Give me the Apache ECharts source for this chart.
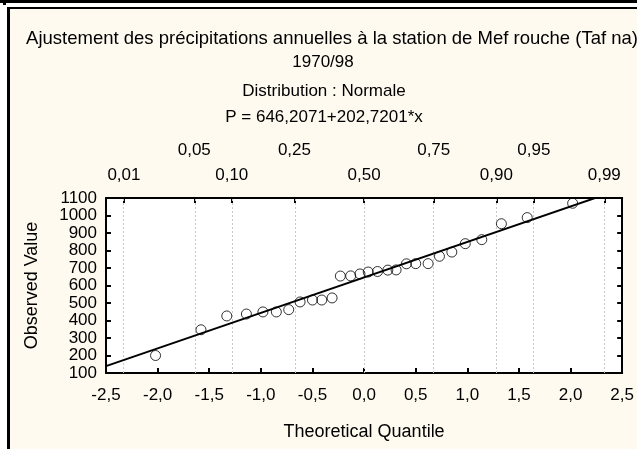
<!DOCTYPE html>
<html>
<head>
<meta charset="utf-8">
<title>Ajustement des précipitations annuelles</title>
<script src="https://cdn.jsdelivr.net/npm/echarts@6/dist/echarts.min.js"></script>
<style>
  html, body { margin: 0; padding: 0; background: #fff; }
  #chart { width: 637px; height: 449px; }
</style>
</head>
<body>
<div id="chart"></div>
<script>
// theoretical quantiles (normal scores)
const quantiles = [-2.02, -1.58, -1.33, -1.14, -0.98, -0.85, -0.73, -0.62, -0.50, -0.41,
    -0.31, -0.23, -0.13, -0.04, 0.04, 0.13, 0.23, 0.31, 0.41, 0.50,
    0.62, 0.73, 0.85, 0.98, 1.14, 1.33, 1.58, 2.02];
// observed annual rainfall (mm), sorted
const observed = [200, 347, 426, 437, 449, 449, 462, 506, 517, 517,
    529, 654, 655, 666, 677, 680, 688, 689, 724, 725,
    725, 767, 791, 839, 862, 953, 988, 1070];

// fitted line P = a + b*x
const intercept = 646.2071;
const slope = 202.7201;

// probability scale on the top axis
const probLabels = ['0,01', '0,05', '0,10', '0,25', '0,50', '0,75', '0,90', '0,95', '0,99'];
const probPos = [-2.3263, -1.6449, -1.2816, -0.6745, 0, 0.6745, 1.2816, 1.6449, 2.3263];
const probLowRow = [-2.3263, -1.2816, 0, 1.2816, 2.3263];
const probHighRow = [-1.6449, -0.6745, 0.6745, 1.6449];

const font = '"Liberation Sans", Arial, sans-serif';

const probName = function (v) {
    let best = 0;
    probPos.forEach((p, i) => {
        if (Math.abs(p - v) < Math.abs(probPos[best] - v)) best = i;
    });
    return probLabels[best];
};

const comma = v => v.toFixed(1).replace('.', ',');

const points = quantiles.map((q, i) => [q, observed[i]]);
const fitLine = [[-2.5, intercept + slope * -2.5], [2.5, intercept + slope * 2.5]];

const chart = echarts.init(document.getElementById('chart'));

const titleStyle = { fontFamily: font, fontSize: 17, fontWeight: 'normal', color: '#000' };

chart.setOption({
    backgroundColor: '#fffaf0',
    animation: false,
    textStyle: { fontFamily: font, color: '#000' },

    title: [
        { text: 'Ajustement des précipitations annuelles à la station de Mef rouche (Taf na)', left: 327, top: 24, textAlign: 'center',
          textStyle: Object.assign({}, titleStyle, { fontSize: 18.5 }) },
        { text: '1970/98', left: 318, top: 49, textAlign: 'center', textStyle: titleStyle },
        { text: 'Distribution : Normale', left: 319, top: 78, textAlign: 'center', textStyle: titleStyle },
        { text: 'P = 646,2071+202,7201*x', left: 319, top: 104, textAlign: 'center', textStyle: titleStyle }
    ],

    // frame around the graph window
    graphic: [
        { type: 'rect', shape: { x: 0, y: 0, width: 637, height: 7 }, style: { fill: '#fff' } },
        { type: 'rect', shape: { x: 0, y: 0, width: 7, height: 449 }, style: { fill: '#fff' } },
        { type: 'rect', shape: { x: 0, y: 0, width: 637, height: 3 }, style: { fill: '#000' } },
        { type: 'rect', shape: { x: 3, y: 0, width: 3, height: 5 }, style: { fill: '#000' } },
        { type: 'rect', shape: { x: 7, y: 7, width: 630, height: 2 }, style: { fill: '#000' } },
        { type: 'rect', shape: { x: 7, y: 7, width: 3, height: 442 }, style: { fill: '#000' } }
    ],

    grid: {
        left: 106,
        right: 12,
        top: 198,
        bottom: 76,
        show: true,
        backgroundColor: '#fff',
        borderWidth: 0
    },

    xAxis: [{
        type: 'value',
        position: 'bottom',
        min: -2.5,
        max: 2.5,
        interval: 0.5,
        name: 'Theoretical Quantile',
        nameLocation: 'middle',
        nameGap: 50,
        nameTextStyle: { fontFamily: font, fontSize: 18, color: '#000' },
        axisLine: { onZero: false, lineStyle: { color: '#000', width: 2 } },
        axisTick: { inside: true, length: 5, lineStyle: { color: '#000', width: 2 } },
        axisLabel: { fontSize: 17, color: '#000', margin: 14, formatter: comma },
        splitLine: { show: false }
    }, {
        type: 'value',
        position: 'top',
        min: -2.5,
        max: 2.5,
        axisLine: { onZero: false, lineStyle: { color: '#000', width: 2 } },
        axisTick: { inside: true, length: 5, customValues: probPos, lineStyle: { color: '#000', width: 2 } },
        axisLabel: { fontSize: 17, color: '#000', margin: 14, customValues: probLowRow, formatter: probName },
        splitLine: { show: false }
    }, {
        type: 'value',
        position: 'top',
        offset: 25,
        min: -2.5,
        max: 2.5,
        axisLine: { show: false, onZero: false },
        axisTick: { show: false },
        axisLabel: { fontSize: 17, color: '#000', margin: 14, customValues: probHighRow, formatter: probName },
        splitLine: { show: false }
    }],

    yAxis: [{
        type: 'value',
        position: 'left',
        min: 100,
        max: 1100,
        interval: 100,
        name: 'Observed Value',
        nameLocation: 'middle',
        nameGap: 65,
        nameTextStyle: { fontFamily: font, fontSize: 18, color: '#000' },
        axisLine: { show: true, onZero: false, lineStyle: { color: '#000', width: 2 } },
        axisTick: { show: true, inside: true, length: 5, lineStyle: { color: '#000', width: 2 } },
        axisLabel: { fontSize: 17, color: '#000', margin: 9, formatter: v => String(v) },
        splitLine: { show: false }
    }, {
        type: 'value',
        position: 'right',
        min: 100,
        max: 1100,
        interval: 100,
        axisLine: { show: true, onZero: false, lineStyle: { color: '#000', width: 2 } },
        axisTick: { show: true, inside: true, length: 5, lineStyle: { color: '#000', width: 2 } },
        axisLabel: { show: false },
        splitLine: { show: false }
    }],

    series: [{
        type: 'scatter',
        name: 'observed',
        xAxisIndex: 0,
        yAxisIndex: 0,
        symbol: 'circle',
        symbolSize: 10,
        itemStyle: { color: 'rgba(0,0,0,0)', borderColor: '#000', borderWidth: 1 },
        data: points,
        z: 3
    }, {
        type: 'line',
        name: 'fit',
        xAxisIndex: 0,
        yAxisIndex: 0,
        clip: true,
        symbol: 'none',
        lineStyle: { color: '#000', width: 2 },
        data: fitLine,
        z: 4,
        markLine: {
            silent: true,
            symbol: 'none',
            label: { show: false },
            lineStyle: { color: '#c8c8c8', type: [2, 2], width: 1 },
            data: probPos.map(p => ({ xAxis: p })),
            z: 1
        }
    }]
});
</script>
</body>
</html>
